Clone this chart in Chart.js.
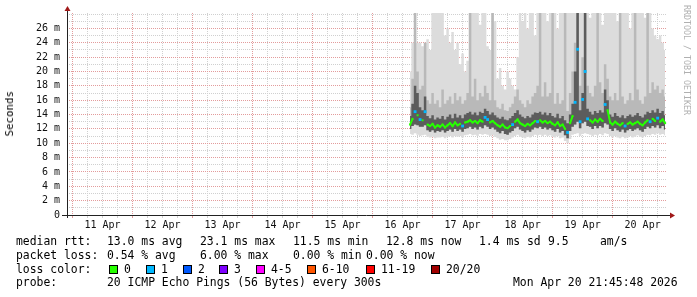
<!DOCTYPE html>
<html>
<head>
<meta charset="utf-8">
<script src="https://cdn.jsdelivr.net/npm/chart.js@4.4.1/dist/chart.umd.min.js"></script>
<style>
  body { margin: 0; background: #fff; }
  #wrap { position: relative; width: 697px; height: 297px; overflow: hidden; }
  canvas { position: absolute; left: 0; top: 0; }
  .t { position: absolute; font-family: "DejaVu Sans Mono", monospace; font-size: 11.4px; line-height: 1; white-space: pre; color: #000; }
  .sw { position: absolute; width: 7px; height: 7px; border: 1px solid #000; }
  #ylab { position: absolute; left: 4px; top: 91px; writing-mode: vertical-rl; transform: rotate(180deg); font-family: "DejaVu Sans Mono", monospace; font-size: 10.8px; line-height: 12px; color: #000; white-space: pre; }
  #mark { position: absolute; left: 682px; top: 5px; writing-mode: vertical-rl; font-family: "DejaVu Sans Mono", monospace; font-size: 8.3px; color: #b0b0b0; white-space: pre; }
</style>
</head>
<body>
<div id="wrap">
  <canvas id="smoke" width="697" height="297"></canvas>
  <div id="ylab">Seconds</div>
  <div id="mark">RRDTOOL / TOBI OETIKER</div>
  <div id="legend"></div>
</div>
<script>
// x axis: hours after 11 Apr 00:00, window ends Mon Apr 20 21:45
const windowStart = -2.2;
const windowEnd = 237.75;
const dayLabels = ['11 Apr', '12 Apr', '13 Apr', '14 Apr', '15 Apr', '16 Apr', '17 Apr', '18 Apr', '19 Apr', '20 Apr'];

// hourly samples, first one at 16 Apr 15:00 (hour 135)
const firstHour = 135;

// median rtt (ms)
const median = [
  12.6, 13.4, 14.4, 13.9, 13.3, 13.2, 14.4, 12.6, 12.4, 12.7,
  12.2, 12.5, 12.3, 12.6, 12.2, 12.5, 12.8, 12.4, 12.9, 12.5,
  12.7, 12.4, 12.9, 13.0, 13.2, 12.9, 13.1, 12.8, 13.2, 13.0,
  13.6, 13.3, 12.9, 13.1, 12.8, 12.5, 12.3, 12.6, 12.2, 12.1,
  12.4, 12.6, 13.0, 13.3, 12.8, 12.6, 12.4, 12.7, 12.5, 12.8,
  13.1, 13.0, 13.2, 12.9, 13.1, 12.8, 13.0, 12.7, 12.5, 12.9,
  12.4, 12.6, 12.0, 11.5, 12.8, 13.8, 15.7, 23.1, 13.0, 16.1,
  20.0, 13.4, 13.2, 12.9, 13.3, 13.0, 13.4, 13.1, 15.4, 14.6,
  12.9, 12.6, 13.0, 12.7, 12.5, 12.8, 12.4, 12.7, 12.9, 12.6,
  12.8, 13.0, 12.7, 12.5, 12.9, 13.2, 13.0, 13.4, 13.1, 13.5,
  13.0, 13.3, 12.8
];

// lost pings per sample (0 -> green, 1 -> light blue)
const loss = [
  0, 0, 1, 0, 1, 0, 1, 0, 0, 0,
  0, 0, 0, 0, 0, 0, 0, 0, 0, 0,
  0, 1, 0, 0, 0, 0, 0, 0, 0, 0,
  1, 1, 0, 0, 0, 0, 0, 0, 0, 0,
  0, 1, 0, 0, 0, 0, 0, 0, 0, 0,
  0, 1, 0, 0, 0, 0, 0, 0, 0, 0,
  0, 0, 0, 1, 0, 0, 1, 1, 1, 1,
  1, 1, 0, 0, 0, 0, 0, 0, 1, 0,
  0, 0, 0, 0, 0, 0, 1, 0, 0, 0,
  0, 0, 0, 0, 0, 0, 1, 0, 0, 1,
  0, 0, 0
];

// smoke: highest ping
const smokeMax = [
  20, 24, 28.2, 24, 24, 23.5, 24, 24.5, 23, 28.2,
  28.2, 28.2, 28.2, 28.2, 25, 26, 24, 25.5, 23, 24,
  21, 22.5, 20, 21.5, 28.2, 28.2, 28.2, 28.2, 26.5, 28.2,
  28.2, 23.5, 23, 28.2, 27, 19, 20.5, 18, 17.5, 20,
  19, 18, 17.5, 22, 28.2, 27, 28.2, 26, 28.2, 28.2,
  25, 28.2, 28.2, 28.2, 28.2, 27, 28.2, 28.2, 28.2, 26,
  28.2, 28.2, 28.2, 28.2, 28.2, 28.2, 28.2, 28.2, 28.2, 28.2,
  28.2, 28.2, 27.5, 28.2, 28.2, 28.2, 28.2, 26.5, 28.2, 28.2,
  28.2, 28.2, 28.2, 27, 28.2, 28.2, 28.2, 28.2, 26, 28.2,
  28.2, 28.2, 28.2, 28.2, 27.5, 28.2, 28.2, 26, 25, 24.5,
  25, 24, 23
];

// smoke: upper edge of the mid grey streaks
const smokeMid = [
  15.0, 19.0, 28.2, 20.0, 17.5, 18.0, 24.0, 16.0, 15.5, 17.0,
  15.5, 16.0, 15.0, 17.5, 15.5, 16.0, 16.5, 15.5, 17.0, 16.0,
  16.5, 15.5, 16.0, 17.0, 28.2, 16.5, 19.0, 16.0, 17.0, 16.5,
  18.0, 17.0, 16.0, 28.2, 16.0, 15.0, 14.8, 15.5, 14.6, 14.5,
  15.0, 15.5, 16.5, 17.5, 16.0, 15.5, 15.0, 16.0, 15.5, 16.5,
  17.0, 18.0, 28.2, 16.5, 18.5, 16.5, 17.0, 28.2, 15.5, 17.0,
  15.5, 16.0, 28.2, 14.5, 17.0, 20.0, 24.0, 28.2, 18.0, 22.0,
  28.2, 18.0, 17.0, 16.5, 18.0, 28.2, 18.5, 17.0, 21.0, 19.0,
  16.5, 16.0, 17.0, 16.0, 28.2, 16.5, 15.5, 16.0, 17.0, 16.0,
  28.2, 17.5, 16.0, 15.5, 16.5, 28.2, 17.0, 18.5, 17.5, 18.0,
  17.0, 17.5, 16.5
];

// smoke: dark band around the median
const smokeHi = [
  13.8, 15.5, 18.0, 17.0, 15.0, 14.6, 16.5, 13.8, 13.5, 13.9,
  13.3, 13.6, 13.4, 13.8, 13.3, 13.7, 14.0, 13.5, 14.1, 13.6,
  13.9, 13.5, 14.0, 14.2, 14.4, 14.0, 14.3, 13.9, 14.4, 14.2,
  14.8, 14.5, 14.0, 14.3, 13.9, 13.6, 13.4, 13.7, 13.3, 13.2,
  13.5, 13.8, 14.2, 14.6, 14.0, 13.7, 13.5, 13.8, 13.6, 14.0,
  14.3, 14.2, 14.4, 14.0, 14.3, 13.9, 14.2, 13.8, 13.6, 14.1,
  13.5, 13.8, 13.2, 12.8, 14.0, 15.5, 20.0, 28.2, 14.6, 17.0,
  28.2, 14.8, 14.4, 14.0, 14.5, 14.2, 14.6, 14.3, 17.5, 16.0,
  14.0, 13.7, 14.2, 13.8, 13.6, 13.9, 13.5, 13.8, 14.0, 13.7,
  13.9, 14.2, 13.8, 13.6, 14.0, 14.4, 14.2, 14.6, 14.3, 14.8,
  14.2, 14.5, 13.9
];
const smokeLo = [
  12.0, 12.4, 12.6, 12.5, 12.3, 12.3, 12.5, 11.8, 11.6, 11.8,
  11.5, 11.7, 11.6, 11.8, 11.5, 11.7, 11.9, 11.6, 12.0, 11.7,
  11.9, 11.6, 12.0, 12.1, 12.3, 12.0, 12.2, 11.9, 12.3, 12.1,
  12.5, 12.3, 12.0, 12.2, 11.9, 11.6, 11.4, 11.7, 11.3, 11.2,
  11.5, 11.7, 12.1, 12.3, 11.9, 11.7, 11.5, 11.8, 11.6, 11.9,
  12.2, 12.1, 12.3, 12.0, 12.2, 11.9, 12.1, 11.8, 11.6, 12.0,
  11.5, 11.7, 11.1, 10.7, 11.7, 12.3, 12.6, 13.0, 12.1, 12.8,
  13.0, 12.4, 12.3, 12.0, 12.4, 12.1, 12.4, 12.2, 12.8, 12.6,
  12.0, 11.7, 12.1, 11.8, 11.6, 11.9, 11.5, 11.8, 12.0, 11.7,
  11.9, 12.1, 11.8, 11.6, 12.0, 12.3, 12.1, 12.4, 12.2, 12.5,
  12.1, 12.4, 11.9
];

// smoke: lowest ping
const smokeMin = [
  11.3, 11.2, 11.4, 11.2, 11.0, 11.1, 11.2, 10.9, 10.8, 10.9,
  10.7, 10.8, 10.8, 10.9, 10.7, 10.9, 11.0, 10.8, 11.0, 10.9,
  11.0, 10.8, 11.1, 11.2, 11.3, 11.1, 11.2, 11.0, 11.3, 11.2,
  11.3, 11.2, 11.0, 11.1, 10.9, 10.7, 10.5, 10.6, 10.4, 10.4,
  10.6, 10.8, 11.0, 11.2, 10.9, 10.8, 10.7, 10.9, 10.8, 11.0,
  11.2, 11.1, 11.2, 11.0, 11.2, 11.0, 11.1, 10.9, 10.8, 11.0,
  10.7, 10.8, 10.3, 10.0, 10.6, 11.2, 11.3, 11.4, 11.0, 11.3,
  11.4, 11.3, 11.2, 11.0, 11.2, 11.1, 11.3, 11.1, 11.4, 11.3,
  11.0, 10.8, 11.0, 10.8, 10.7, 10.9, 10.7, 10.8, 11.0, 10.8,
  10.9, 11.1, 10.9, 10.8, 11.0, 11.2, 11.1, 11.3, 11.2, 11.4,
  11.2, 11.3, 11.1
];

// legend
const lossColors = ['#26ff00', '#00b8ff', '#0059ff', '#7e00ff', '#ff00ff', '#ff5500', '#ff0000', '#a10000'];
const lossLabels = ['0', '1', '2', '3', '4-5', '6-10', '11-19', '20/20'];
const statLines = [
  ['median rtt:', '13.0 ms avg', '23.1 ms max', '11.5 ms min', '12.8 ms now', '1.4 ms sd', '9.5', 'am/s'],
  ['packet loss:', '0.54 % avg', '6.00 % max', '0.00 % min', '0.00 % now']
];
const probeText = '20 ICMP Echo Pings (56 Bytes) every 300s';
const stampText = 'Mon Apr 20 21:45:48 2026';

// ---- legend text ----
const legend = document.getElementById('legend');
function addText(x, y, s) {
  const d = document.createElement('div');
  d.className = 't';
  d.style.left = x + 'px';
  d.style.top = y + 'px';
  d.textContent = s;
  legend.appendChild(d);
}
const rttX = [16, 107, 200, 293, 386, 479, 548, 600];
statLines[0].forEach((s, i) => addText(rttX[i], 236, s));
const lossX = [16, 107, 200, 293, 366];
statLines[1].forEach((s, i) => addText(lossX[i], 249.5, s));
addText(16, 263.5, 'loss color:');
const swX = [109, 146, 183, 219, 256, 307, 366, 431];
lossColors.forEach((c, i) => {
  const b = document.createElement('div');
  b.className = 'sw';
  b.style.left = swX[i] + 'px';
  b.style.top = '265px';
  b.style.background = c;
  legend.appendChild(b);
  addText(swX[i] + 15, 263.5, lossLabels[i]);
});
addText(16, 277, 'probe:');
addText(107, 277, probeText);
addText(513, 277, stampText);

// ---- chart ----
const pts = arr => arr.map((v, i) => ({ x: firstHour + i, y: v }));
const greenPts = median.map((v, i) => ({ x: firstHour + i, y: loss[i] === 0 ? v : null }));
const bluePts = median.map((v, i) => ({ x: firstHour + i, y: loss[i] === 1 ? v : null }));

const clear = 'rgba(0,0,0,0)';
function band(values, fillColor, order) {
  return {
    data: pts(values), fill: fillColor ? '+1' : false, backgroundColor: fillColor || clear,
    borderColor: clear, borderWidth: 0, pointRadius: 0, stepped: 'middle', order: order
  };
}

const majorGrid = '#e39c9c';
const minorGrid = '#d0d0d0';
const tickFont = { family: 'DejaVu Sans Mono', size: 10 };

const axisArrows = {
  id: 'axisArrows',
  afterDraw(chart) {
    const { ctx, chartArea: a } = chart;
    ctx.save();
    ctx.strokeStyle = '#222';
    ctx.lineWidth = 1;
    ctx.beginPath();
    ctx.moveTo(a.left - 5, a.bottom + 0.5);
    ctx.lineTo(a.right + 4, a.bottom + 0.5);
    ctx.moveTo(a.left + 0.5, a.bottom + 3);
    ctx.lineTo(a.left + 0.5, a.top - 2);
    ctx.stroke();
    ctx.fillStyle = '#a01818';
    ctx.beginPath();
    ctx.moveTo(a.right + 8, a.bottom + 0.5);
    ctx.lineTo(a.right + 3, a.bottom - 2.5);
    ctx.lineTo(a.right + 3, a.bottom + 3.5);
    ctx.closePath();
    ctx.fill();
    ctx.beginPath();
    ctx.moveTo(a.left + 0.5, a.top - 7);
    ctx.lineTo(a.left - 2.5, a.top - 2);
    ctx.lineTo(a.left + 3.5, a.top - 2);
    ctx.closePath();
    ctx.fill();
    ctx.restore();
  }
};

new Chart(document.getElementById('smoke'), {
  type: 'line',
  data: {
    datasets: [
      band(smokeMax, '#dcdcdc', 6),
      band(smokeMin, null, 6),
      band(smokeMid, '#b9b9b9', 5),
      band(smokeLo, null, 5),
      band(smokeHi, '#5c5c5c', 4),
      band(smokeLo, null, 4),
      {
        data: greenPts, borderColor: '#26ff00', backgroundColor: '#26ff00', borderWidth: 2,
        pointRadius: 1.4, pointStyle: 'rect', pointBorderWidth: 0, fill: false, order: 2
      },
      {
        data: bluePts, showLine: false, backgroundColor: '#00b8ff', borderColor: '#00b8ff',
        pointRadius: 2, pointStyle: 'rect', pointBorderWidth: 0, fill: false, order: 1
      }
    ]
  },
  options: {
    responsive: false,
    animation: false,
    layout: { padding: { top: 13, right: 30, left: 0, bottom: 0 } },
    plugins: { legend: { display: false }, tooltip: { enabled: false } },
    scales: {
      x: {
        type: 'linear', min: windowStart, max: windowEnd, z: 1,
        afterFit: s => { s.height = 82; },
        border: { display: false, dash: [1, 1] },
        grid: {
          drawTicks: true, tickLength: 3, lineWidth: 1, borderDash: [1, 1],
          color: c => (c.tick && c.tick.value % 24 === 0 ? majorGrid : minorGrid)
        },
        ticks: {
          stepSize: 6, includeBounds: false, autoSkip: false, maxRotation: 0, maxTicksLimit: 100,
          padding: 1, font: tickFont, color: '#111',
          callback: v => (v % 24 === 12 ? dayLabels[(v - 12) / 24] : '')
        }
      },
      y: {
        min: 0, max: 28.15, z: 1,
        afterFit: s => { s.width = 67; },
        border: { display: false, dash: [1, 1] },
        grid: {
          drawTicks: false, lineWidth: 1, borderDash: [1, 1],
          color: c => (c.tick && c.tick.value % 2 === 0 && c.tick.value < 28 ? majorGrid : minorGrid)
        },
        ticks: {
          stepSize: 1, includeBounds: false, autoSkip: false, maxTicksLimit: 100,
          padding: 7, font: tickFont, color: '#111',
          callback: v => (v % 2 !== 0 || v >= 28 ? '' : v === 0 ? '0' : v + ' m')
        }
      }
    }
  },
  plugins: [axisArrows]
});
</script>
</body>
</html>
